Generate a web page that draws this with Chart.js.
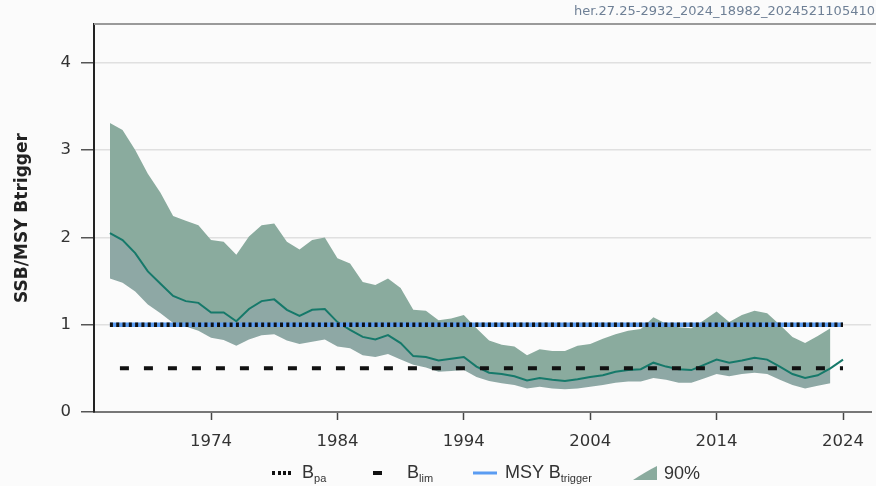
<!DOCTYPE html>
<html>
<head>
<meta charset="utf-8">
<script src="https://cdn.jsdelivr.net/npm/chart.js@4.4.1/dist/chart.umd.min.js"></script>
<style>
  html, body { margin: 0; padding: 0; background: #fbfbfb; overflow: hidden; }
  #wrap { position: relative; width: 876px; height: 486px; overflow: hidden; }
  #stamp {
    position: absolute; left: 574px; top: 3px; white-space: nowrap;
    font: 13px "DejaVu Sans", sans-serif; color: #6f8096;
  }
  #legend {
    position: absolute; left: 0; top: 461px; width: 876px; height: 25px;
    font: 18px "Liberation Sans", Arial, sans-serif; color: #333;
  }
  #legend .item { position: absolute; top: 0; display: flex; align-items: center; height: 24px; }
  #legend svg { margin-right: 10px; }
  #legend sub { font-size: 11px; vertical-align: -4px; }
</style>
</head>
<body>
<div id="wrap">
  <canvas id="chart" width="876" height="486"></canvas>
  <div id="stamp">her.27.25-2932_2024_18982_2024521105410</div>
  <div id="legend">
    <div class="item" style="left:272px">
      <svg width="20" height="6"><g fill="#111"><rect x="0" y="1" width="3" height="4"/><rect x="6" y="1" width="3" height="4"/><rect x="11" y="1" width="3" height="4"/><rect x="16" y="1" width="3" height="4"/></g></svg>
      <span>B<sub>pa</sub></span>
    </div>
    <div class="item" style="left:373px">
      <svg width="22" height="6" style="margin-right:12px"><rect x="0" y="1" width="9" height="4" fill="#111"/></svg>
      <span>B<sub>lim</sub></span>
    </div>
    <div class="item" style="left:473px">
      <svg width="24" height="6" style="margin-right:8px"><rect x="0" y="1.5" width="24" height="3" fill="#5a9cf2"/></svg>
      <span>MSY B<sub>trigger</sub></span>
    </div>
    <div class="item" style="left:633px">
      <svg width="25" height="16" style="margin-right:6px"><path d="M0 15 Q14 6 24 1 L24 15 Z" fill="#8aab9e"/></svg>
      <span>90%</span>
    </div>
  </div>
</div>
<script>
const years = [1966, 1967, 1968, 1969, 1970, 1971, 1972, 1973, 1974, 1975,
  1976, 1977, 1978, 1979, 1980, 1981, 1982, 1983, 1984, 1985,
  1986, 1987, 1988, 1989, 1990, 1991, 1992, 1993, 1994, 1995,
  1996, 1997, 1998, 1999, 2000, 2001, 2002, 2003, 2004, 2005,
  2006, 2007, 2008, 2009, 2010, 2011, 2012, 2013, 2014, 2015,
  2016, 2017, 2018, 2019, 2020, 2021, 2022, 2023, 2024];

// SSB / MSY Btrigger, median estimate (1966-2024)
const ssbRatio = [2.05, 1.97, 1.82, 1.61, 1.47, 1.33, 1.27, 1.25, 1.14, 1.14,
  1.04, 1.18, 1.27, 1.29, 1.17, 1.10, 1.17, 1.18, 1.03, 0.94,
  0.86, 0.83, 0.88, 0.79, 0.64, 0.63, 0.59, 0.61, 0.63, 0.52,
  0.45, 0.435, 0.41, 0.36, 0.39, 0.37, 0.355, 0.375, 0.40, 0.42,
  0.46, 0.48, 0.49, 0.565, 0.52, 0.49, 0.48, 0.54, 0.60, 0.565,
  0.59, 0.62, 0.60, 0.52, 0.435, 0.39, 0.42, 0.50, 0.60];

// 90% interval (1966-2023)
const ssbHigh = [3.31, 3.23, 3.00, 2.73, 2.51, 2.245, 2.19, 2.14, 1.97, 1.95,
  1.80, 2.01, 2.14, 2.16, 1.95, 1.86, 1.97, 2.00, 1.76, 1.70,
  1.49, 1.455, 1.53, 1.42, 1.17, 1.16, 1.05, 1.07, 1.11, 0.96,
  0.82, 0.77, 0.75, 0.65, 0.72, 0.70, 0.70, 0.76, 0.78, 0.84,
  0.89, 0.93, 0.95, 1.085, 1.01, 0.97, 0.96, 1.05, 1.15, 1.03,
  1.11, 1.16, 1.13, 1.00, 0.86, 0.79, 0.87, 0.96];
const ssbLow = [1.53, 1.48, 1.38, 1.23, 1.13, 1.02, 0.98, 0.93, 0.85, 0.825,
  0.76, 0.83, 0.88, 0.89, 0.82, 0.78, 0.805, 0.83, 0.75, 0.73,
  0.65, 0.63, 0.665, 0.60, 0.54, 0.51, 0.46, 0.47, 0.48, 0.40,
  0.355, 0.33, 0.31, 0.27, 0.29, 0.27, 0.26, 0.27, 0.29, 0.31,
  0.335, 0.35, 0.35, 0.39, 0.37, 0.335, 0.335, 0.385, 0.435, 0.41,
  0.435, 0.45, 0.435, 0.37, 0.31, 0.27, 0.30, 0.33];

// reference points, relative to MSY Btrigger
const BPA = 1.0;
const BLIM = 0.5;
const MSY_BTRIGGER = 1.0;

const xTicks = [1974, 1984, 1994, 2004, 2014, 2024];
const yTicks = [0, 1, 2, 3, 4];

const TEAL = '#16796a';
const BAND_TOP = '#8aab9e';
const BAND_BOTTOM = '#8ea8a5';
const BLUE = '#5a9cf2';

function pts(values) {
  return values.map((v, i) => ({ x: years[i], y: v }));
}
function flat(value) {
  return [{ x: years[0], y: value }, { x: years[years.length - 1], y: value }];
}

// frame line along the top of the plot
const topBorder = {
  id: 'top_border',
  afterDraw(chart) {
    const { ctx, chartArea } = chart;
    ctx.save();
    ctx.strokeStyle = '#9a9a9a';
    ctx.lineWidth = 2;
    ctx.beginPath();
    ctx.moveTo(chartArea.left, chartArea.top);
    ctx.lineTo(chart.width, chartArea.top);
    ctx.stroke();
    ctx.restore();
  }
};

const line = { pointRadius: 0, fill: false, tension: 0 };

new Chart(document.getElementById('chart'), {
  type: 'line',
  data: {
    datasets: [
      { ...line, label: 'high', data: pts(ssbHigh), borderWidth: 0, fill: '+1', backgroundColor: BAND_TOP, order: 6 },
      { ...line, label: 'mid', data: pts(ssbRatio.slice(0, ssbHigh.length)), borderWidth: 0, fill: '+1', backgroundColor: BAND_BOTTOM, order: 5 },
      { ...line, label: 'low', data: pts(ssbLow), borderWidth: 0, order: 4 },
      { ...line, label: 'SSB', data: pts(ssbRatio), borderColor: TEAL, borderWidth: 2, order: 3 },
      { ...line, label: 'Blim', data: flat(BLIM), borderColor: '#111', borderWidth: 4, borderDash: [9, 15], borderDashOffset: 14, borderCapStyle: 'butt', order: 2 },
      { ...line, label: 'MSY Btrigger', data: flat(MSY_BTRIGGER), borderColor: BLUE, borderWidth: 4.5, order: 1 },
      { ...line, label: 'Bpa', data: flat(BPA), borderColor: '#111', borderWidth: 4.5, borderDash: [3, 3.3], borderCapStyle: 'butt', order: 0 }
    ]
  },
  options: {
    responsive: false,
    animation: false,
    devicePixelRatio: 1,
    layout: { padding: { top: 24, right: 0, bottom: 0, left: 0 } },
    plugins: { legend: { display: false }, tooltip: { enabled: false } },
    scales: {
      x: {
        type: 'linear',
        min: 1964.74,
        max: 2026.22,
        afterFit: (scale) => { scale.height = 74; },
        afterBuildTicks: (scale) => { scale.ticks = xTicks.map(v => ({ value: v })); },
        grid: { drawOnChartArea: false, tickLength: 8, tickColor: '#444', tickWidth: 1.5 },
        border: { color: '#777', width: 2 },
        ticks: {
          padding: 12,
          color: '#333',
          font: { family: 'DejaVu Sans', size: 16.5 },
          callback: (v) => String(v),
          maxRotation: 0
        }
      },
      y: {
        min: 0,
        max: 4.444,
        afterFit: (scale) => { scale.width = 94; },
        afterBuildTicks: (scale) => { scale.ticks = yTicks.map(v => ({ value: v })); },
        grid: { color: '#e0e0e0', lineWidth: 1.5, tickLength: 13, tickColor: '#555', tickWidth: 1.5 },
        border: { color: '#222', width: 2 },
        ticks: {
          padding: 10,
          color: '#333',
          font: { family: 'DejaVu Sans', size: 16.5 }
        },
        title: {
          display: true,
          text: 'SSB/MSY Btrigger',
          color: '#222',
          font: { family: 'DejaVu Sans', size: 17, weight: 'bold' },
          padding: { top: 12, bottom: 0 }
        }
      }
    }
  },
  plugins: [topBorder]
});
</script>
</body>
</html>
